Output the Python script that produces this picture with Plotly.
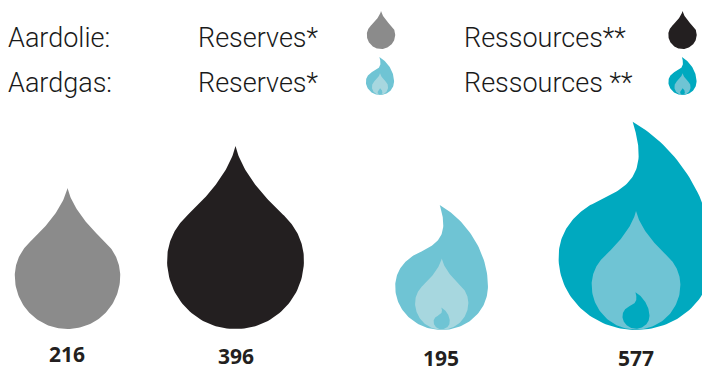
import numpy as np
import plotly.graph_objects as go

# ---- data ----
categories = ["Aardolie Reserves", "Aardolie Ressources", "Aardgas Reserves", "Aardgas Ressources"]
values = [216, 396, 195, 577]
row_labels = ["Aardolie:", "Aardgas:"]
reserve_labels = ["Reserves*", "Reserves*"]
resource_labels = ["Ressources**", "Ressources **"]

# ---- styles ----
GRAY, BLACK = "#8b8b8b", "#231f20"
TEAL, MID, PALE = "#00a9bf", "#6fc4d4", "#a7d7df"
BG = "#ffffff"

# unit outlines: bottom-centre at (0,0), height 1
DROP = [((0, 1), (.03, .87), (.14, .735), (.26, .625)),
        ((.26, .625), (.33, .56), (.374, .475), (.374, .376)),
        ((.374, .376), (.374, .17), (.21, 0), (0, 0)),
        ((0, 0), (-.21, 0), (-.374, .17), (-.374, .376)),
        ((-.374, .376), (-.374, .475), (-.33, .56), (-.26, .625)),
        ((-.26, .625), (-.14, .735), (-.03, .87), (0, 1))]
FLAME = [((-.016, 1), (.18, .89), (.37, .64), (.37, .35)),
         ((.37, .35), (.37, .15), (.2, 0), (0, 0)),
         ((0, 0), (-.2, 0), (-.372, .15), (-.372, .35)),
         ((-.372, .35), (-.372, .47), (-.30, .55), (-.22, .60)),
         ((-.22, .60), (-.10, .66), (.025, .70), (.012, .87)),
         ((.012, .87), (.008, .92), (-.004, .96), (-.016, 1))]


def outline(segments):
    t = np.linspace(0, 1, 40)[:, None]
    pts = []
    for a, b, c, d in segments:
        a, b, c, d = map(np.array, (a, b, c, d))
        pts.append((1 - t) ** 3 * a + 3 * (1 - t) ** 2 * t * b + 3 * (1 - t) * t ** 2 * c + t ** 3 * d)
    return np.vstack(pts)


DROP_PTS, FLAME_PTS = outline(DROP), outline(FLAME)
fig = go.Figure()


def blob(pts, cx, base, h, color, name):
    fig.add_trace(go.Scatter(x=cx + pts[:, 0] * h, y=base - pts[:, 1] * h, mode="lines",
                             fill="toself", fillcolor=color, line=dict(width=0),
                             hoverinfo="skip", name=name, showlegend=False))


def drop(cx, base, h, color, name):
    blob(DROP_PTS, cx, base, h, color, name)


def flame(cx, base, h, outer, mid, inner, name):
    blob(FLAME_PTS, cx, base, h, outer, name)
    blob(DROP_PTS, cx, base - .002 * h, .57 * h, mid, name)
    blob(FLAME_PTS, cx, base - .006 * h, .175 * h, inner, name)


def size(v, v0, h0, p):
    return h0 * (v / v0) ** p


# main marks, scaled from the values
drop(67.5, 329, size(values[0], 216, 141, .43), GRAY, categories[0])
drop(235.5, 329, size(values[1], 216, 141, .43), BLACK, categories[1])
flame(441.7, 330, size(values[2], 195, 125, .47), MID, PALE, MID, categories[2])
flame(636, 330, size(values[3], 195, 125, .47), TEAL, MID, TEAL, categories[3])

# legend marks
drop(381, 49, 38, GRAY, "legend")
drop(682.5, 49, 38, BLACK, "legend")
flame(380, 95, 38, MID, PALE, MID, "legend")
flame(682.5, 95, 38, TEAL, MID, TEAL, "legend")

LEG = dict(family="Roboto", size=27, color="#1a1a1a", weight=300)
annots = []
for lbl, res, ress, y in zip(row_labels, reserve_labels, resource_labels, [38, 83]):
    for x, t in ((6, lbl), (196, res), (462, ress)):
        annots.append(dict(x=x, y=y, text=t, xanchor="left", yanchor="middle", showarrow=False,
                           font=LEG, xref="x", yref="y"))
for v, x, y in zip(values, [67, 236, 441, 636], [354, 356, 358, 358]):
    annots.append(dict(x=x, y=y, text=f"<b>{v}</b>", xanchor="center", yanchor="middle", showarrow=False,
                       font=dict(family="Open Sans", size=21, color="#231f20"), xref="x", yref="y"))

fig.update_layout(width=702, height=371, margin=dict(l=0, r=0, t=0, b=0),
                  paper_bgcolor=BG, plot_bgcolor=BG, annotations=annots,
                  xaxis=dict(range=[0, 702], visible=False, fixedrange=True),
                  yaxis=dict(range=[371, 0], visible=False, fixedrange=True))
fig.write_html("out.html", config={"displayModeBar": False},
               post_script="document.body.style.margin='0';document.body.style.overflow='hidden';")
